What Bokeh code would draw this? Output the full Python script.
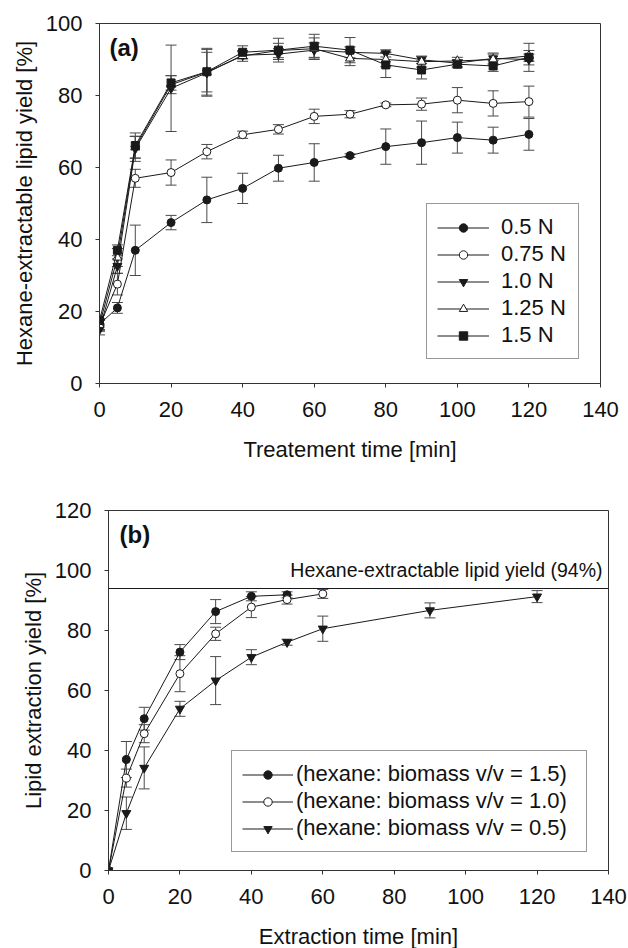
from bokeh.plotting import figure
from bokeh.models import (ColumnDataSource, Whisker, TeeHead, Legend, LegendItem,
                          Range1d, FixedTicker, Span, Label)
from bokeh.embed import file_html
from bokeh.resources import INLINE

# ---------------- data: panel (a) ----------------
time_a = [0, 5, 10, 20, 30, 40, 50, 60, 70, 80, 90, 100, 110, 120]
n05 = [16.5, 21.0, 37.0, 44.7, 51.0, 54.2, 59.8, 61.4, 63.3, 65.8, 66.9, 68.3, 67.6, 69.2]
n05_err = [1.5, 1.5, 7.0, 2.0, 6.3, 4.2, 3.6, 5.2, 0.5, 4.9, 6.0, 4.3, 3.6, 4.4]
n075 = [16.0, 27.6, 57.0, 58.6, 64.4, 69.1, 70.6, 74.2, 74.8, 77.4, 77.6, 78.7, 77.8, 78.3]
n075_err = [1.5, 3.0, 2.5, 3.5, 2.0, 1.0, 1.3, 2.0, 1.0, 0.5, 1.7, 3.5, 3.5, 4.3]
n10 = [15.0, 32.6, 65.2, 82.0, 86.3, 91.2, 91.5, 92.6, 92.0, 91.7, 89.9, 89.0, 90.3, 90.0]
n10_err = [1.5, 2.0, 3.5, 12.0, 6.5, 1.0, 1.5, 2.0, 1.5, 1.0, 1.0, 1.0, 1.5, 1.5]
n125 = [16.3, 35.0, 65.6, 83.0, 86.5, 91.0, 92.5, 93.0, 90.3, 90.0, 89.4, 89.6, 90.0, 91.0]
n125_err = [1.5, 2.5, 3.0, 2.5, 5.5, 1.5, 2.0, 3.0, 2.0, 2.0, 1.5, 1.0, 1.5, 1.5]
n15 = [17.5, 37.0, 66.1, 83.5, 86.6, 92.0, 92.6, 93.7, 92.6, 88.5, 87.1, 88.7, 88.2, 90.6]
n15_err = [1.5, 1.5, 3.5, 2.0, 6.5, 1.8, 3.3, 3.3, 3.5, 3.5, 2.5, 1.0, 1.5, 3.9]
labels_a = ["0.5 N", "0.75 N", "1.0 N", "1.25 N", "1.5 N"]

# ---------------- data: panel (b) ----------------
time_b15 = [0, 5, 10, 20, 30, 40, 50]
b15 = [0.0, 37.0, 50.6, 72.8, 86.3, 91.4, 91.9]
b15_err = [0.0, 6.0, 3.8, 2.5, 4.0, 1.5, 1.0]
time_b10 = [0, 5, 10, 20, 30, 40, 50, 60]
b10 = [0.0, 30.8, 45.6, 65.6, 78.9, 87.8, 90.3, 92.2]
b10_err = [0.0, 3.0, 3.0, 6.0, 2.2, 3.5, 1.5, 1.5]
time_b05 = [0, 5, 10, 20, 30, 40, 50, 60, 90, 120]
b05 = [0.0, 19.1, 34.2, 53.9, 63.3, 71.1, 76.1, 80.6, 86.7, 91.3]
b05_err = [0.0, 5.4, 7.0, 2.5, 8.0, 2.5, 1.0, 4.2, 2.5, 2.0]
labels_b = ["(hexane: biomass v/v = 1.5)", "(hexane: biomass v/v = 1.0)",
            "(hexane: biomass v/v = 0.5)"]
hexane_yield = 94
hexane_text = "Hexane-extractable lipid yield (94%)"

x_ticks = [0, 20, 40, 60, 80, 100, 120, 140]
y_ticks_a = [0, 20, 40, 60, 80, 100]
y_ticks_b = [0, 20, 40, 60, 80, 100, 120]

FONT = "Liberation Sans"
INK = "#1a1a1a"
AX = "#333333"
ERR = "#4a4a4a"
TXT = "#111111"


def style(p, xlabel, ylabel, yticks, ylab_standoff):
    p.xaxis.axis_label = xlabel
    p.yaxis.axis_label = ylabel
    p.xaxis.ticker = FixedTicker(ticks=x_ticks)
    p.yaxis.ticker = FixedTicker(ticks=yticks)
    for ax in (p.xaxis[0], p.yaxis[0]):
        ax.axis_line_color = AX
        ax.major_tick_line_color = AX
        ax.minor_tick_line_color = None
        ax.major_tick_in = 0
        ax.major_tick_out = 4
        ax.major_label_text_font = FONT
        ax.major_label_text_font_size = "22px"
        ax.major_label_text_color = TXT
        ax.axis_label_text_font = FONT
        ax.axis_label_text_font_size = "22px"
        ax.axis_label_text_font_style = "normal"
        ax.axis_label_text_color = TXT
    p.xaxis.major_label_standoff = 14
    p.yaxis.major_label_standoff = 13
    p.xaxis.axis_label_standoff = 17
    p.yaxis.axis_label_standoff = ylab_standoff
    p.grid.visible = False
    p.outline_line_color = AX
    p.outline_line_width = 1
    p.background_fill_color = "white"
    p.border_fill_color = "white"


def series(p, x, y, err, marker, fill, size):
    src = ColumnDataSource(dict(
        x=x, y=y,
        upper=[v + e for v, e in zip(y, err)],
        lower=[v - e for v, e in zip(y, err)],
    ))
    w = Whisker(source=src, base="x", upper="upper", lower="lower",
                line_color=ERR, line_width=1,
                upper_head=TeeHead(size=11, line_color=ERR, line_width=1),
                lower_head=TeeHead(size=11, line_color=ERR, line_width=1))
    p.add_layout(w)
    lr = p.line("x", "y", source=src, line_color=INK, line_width=1)
    sr = p.scatter("x", "y", source=src, marker=marker, size=size,
                   fill_color=fill, line_color=INK, line_width=1)
    return [lr, sr]


# ---------------- panel (a) ----------------
p1 = figure(frame_width=501, frame_height=360,
            min_border_left=99, min_border_right=28,
            min_border_top=23, min_border_bottom=95,
            x_range=Range1d(0, 140), y_range=Range1d(0, 100),
            output_backend="svg", toolbar_location=None)
style(p1, "Treatement time [min]", "Hexane-extractable lipid yield [%]", y_ticks_a, 6)

specs_a = [
    (n05, n05_err, "circle", INK, 8),
    (n075, n075_err, "circle", "white", 8),
    (n10, n10_err, "inverted_triangle", INK, 9),
    (n125, n125_err, "triangle", "white", 9),
    (n15, n15_err, "square", INK, 8),
]
items_a = []
for (vals, errs, mk, fc, sz), lab in zip(specs_a, labels_a):
    rs = series(p1, time_a, vals, errs, mk, fc, sz)
    items_a.append(LegendItem(label=lab, renderers=rs))

leg_a = Legend(items=items_a, location=(327, 24), margin=0, padding=10, spacing=1,
               glyph_width=52, glyph_height=21, label_standoff=12, label_width=67,
               label_text_font=FONT, label_text_font_size="22px", label_text_color=TXT,
               border_line_color=AX, border_line_width=1, background_fill_alpha=1)
p1.add_layout(leg_a)
p1.add_layout(Label(x=0, y=100, x_offset=10, y_offset=-24, text="(a)",
                    text_font=FONT, text_font_size="24px", text_font_style="bold",
                    text_color=TXT, text_baseline="alphabetic"))

# ---------------- panel (b) ----------------
p2 = figure(frame_width=500, frame_height=360,
            min_border_left=108, min_border_right=20,
            min_border_top=32, min_border_bottom=76,
            x_range=Range1d(0, 140), y_range=Range1d(0, 120),
            output_backend="svg", toolbar_location=None)
style(p2, "Extraction time [min]", "Lipid extraction yield [%]", y_ticks_b, 6)

p2.add_layout(Span(location=hexane_yield, dimension="width", line_color=INK, line_width=1))
p2.add_layout(Label(x=140, y=hexane_yield, x_offset=-6, y_offset=19, text=hexane_text,
                    text_font=FONT, text_font_size="19.5px", text_color=TXT,
                    text_align="right", text_baseline="alphabetic"))

specs_b = [
    (time_b15, b15, b15_err, "circle", INK, 8),
    (time_b10, b10, b10_err, "circle", "white", 8),
    (time_b05, b05, b05_err, "inverted_triangle", INK, 9),
]
items_b = []
for (tt, vals, errs, mk, fc, sz), lab in zip(specs_b, labels_b):
    rs = series(p2, tt, vals, errs, mk, fc, sz)
    items_b.append(LegendItem(label=lab, renderers=rs))

leg_b = Legend(items=items_b, location=(123, 18), margin=0, padding=10, spacing=1,
               glyph_width=51, glyph_height=21, label_standoff=3, label_width=280,
               label_text_font=FONT, label_text_font_size="22px", label_text_color=TXT,
               border_line_color=AX, border_line_width=1, background_fill_alpha=1)
p2.add_layout(leg_b)
p2.add_layout(Label(x=0, y=120, x_offset=11, y_offset=-24, text="(b)",
                    text_font=FONT, text_font_size="24px", text_font_style="bold",
                    text_color=TXT, text_baseline="alphabetic"))

open("out.html", "w").write(file_html([p1, p2], INLINE))
